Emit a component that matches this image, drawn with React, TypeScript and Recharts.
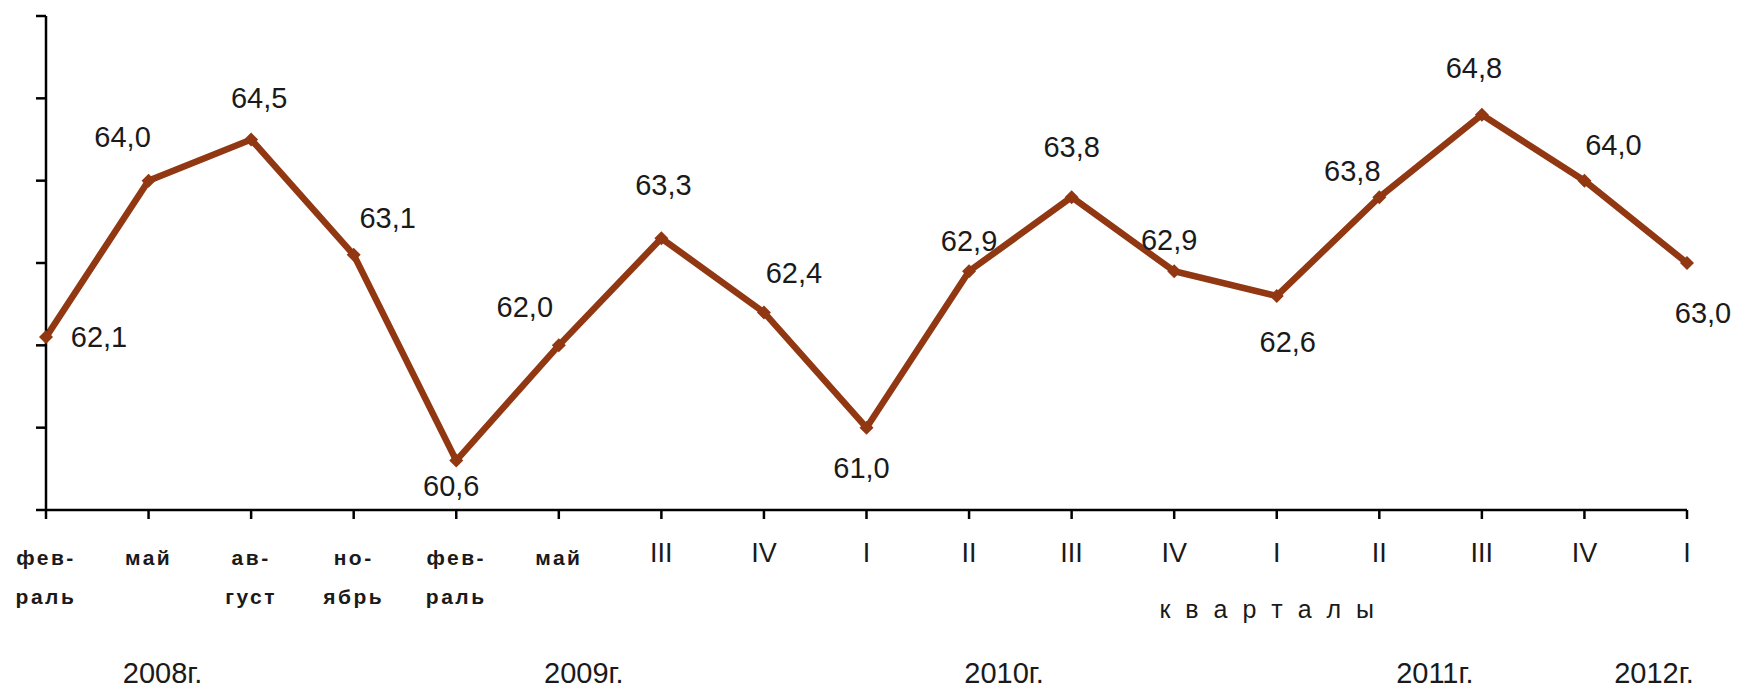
import React from 'react';
import { LineChart, Line, XAxis, YAxis, LabelList } from 'recharts';

// ---- data ----
const categories: string[][] = [
  ['фев-', 'раль'], ['май'], ['ав-', 'густ'], ['но-', 'ябрь'],
  ['фев-', 'раль'], ['май'], ['III'], ['IV'], ['I'], ['II'], ['III'], ['IV'],
  ['I'], ['II'], ['III'], ['IV'], ['I'],
];
const values: number[] = [62.1, 64.0, 64.5, 63.1, 60.6, 62.0, 63.3, 62.4, 61.0, 62.9, 63.8, 62.9, 62.6, 63.8, 64.8, 64.0, 63.0];
const yTicks: number[] = [60, 61, 62, 63, 64, 65, 66];
const years: string[] = ['2008г.', '2009г.', '2010г.', '2011г.', '2012г.'];
const yearAnchorIndex: number[] = [1, 5, 9, 14, 16];
const axisTitle = 'к в а р т а л ы';
const axisTitleAnchorIndex = 12;

// ---- styling (offsets in px) ----
const yearDx: number[] = [14, 25, 35, -47, -33];
const labelOffsets: [number, number][] = [
  [53, 0], [-26, -44], [8, -42], [34, -37], [-5, 25], [-34, -38], [2, -53], [30, -39],
  [-5, 40], [0, -30], [0, -50], [-5, -31], [11, 46], [-27, -26], [-8, -47], [29, -36], [16, 50],
];
const LINE_COLOR = '#913812';
const FONT = '"Liberation Sans", Arial, sans-serif';
const TEXT_COLOR = '#1a1a1a';

const data = values.map((v, i) => ({ idx: i, value: v }));
const xTicks = values.map((_, i) => i);

const XTick = (props: any) => {
  const { x, y, payload } = props;
  const i: number = payload.value;
  const lines = categories[i] || [];
  const roman = /^[IV]+$/.test(lines[0] || '');
  const yi = yearAnchorIndex.indexOf(i);
  return (
    <g>
      {roman ? (
        <text x={x} y={y + 34} textAnchor="middle" dominantBaseline="central" fontFamily={FONT} fontSize={27} fill={TEXT_COLOR}>
          {lines[0]}
        </text>
      ) : (
        lines.map((t, k) => (
          <text key={k} x={x} y={y + 38 + k * 39} textAnchor="middle" dominantBaseline="central" fontFamily={FONT} fontSize={21} fontWeight="bold" letterSpacing={2.5} fill={TEXT_COLOR}>
            {t}
          </text>
        ))
      )}
      {i === axisTitleAnchorIndex && (
        <text x={x - 8} y={y + 90} textAnchor="middle" dominantBaseline="central" fontFamily={FONT} fontSize={25} letterSpacing={4} fill={TEXT_COLOR}>
          {axisTitle}
        </text>
      )}
      {yi >= 0 && (
        <text x={x + yearDx[yi]} y={y + 154} textAnchor="middle" dominantBaseline="central" fontFamily={FONT} fontSize={29} fill={TEXT_COLOR}>
          {years[yi]}
        </text>
      )}
    </g>
  );
};

const DataLabel = (props: any) => {
  const { x, y, index, value } = props;
  const off = labelOffsets[index] || [0, -30];
  return (
    <text x={x + off[0]} y={y + off[1]} textAnchor="middle" dominantBaseline="central" fontFamily={FONT} fontSize={29} fill={TEXT_COLOR}>
      {Number(value).toFixed(1).replace('.', ',')}
    </text>
  );
};

const Diamond = (props: any) => {
  const { cx, cy } = props;
  if (cx == null || cy == null) return <g />;
  const r = 7;
  return <polygon points={`${cx},${cy - r} ${cx + r},${cy} ${cx},${cy + r} ${cx - r},${cy}`} fill={LINE_COLOR} />;
};

export default function App() {
  return (
    <div style={{ width: 1731, height: 680, background: '#fff' }}>
      <LineChart width={1731} height={680} data={data} margin={{ top: 8, right: 52, left: 0, bottom: 0 }}>
        <XAxis
          dataKey="idx"
          type="number"
          domain={[0, 16]}
          ticks={xTicks}
          interval={0}
          height={178}
          tickSize={9}
          tickMargin={0}
          axisLine={{ stroke: '#000', strokeWidth: 2.5 }}
          tickLine={{ stroke: '#000', strokeWidth: 2.5 }}
          tick={<XTick />}
        />
        <YAxis
          type="number"
          domain={[60, 66]}
          ticks={yTicks}
          width={38}
          tickSize={10}
          axisLine={{ stroke: '#000', strokeWidth: 2.5 }}
          tickLine={{ stroke: '#000', strokeWidth: 2.5 }}
          tick={() => <g />}
        />
        <Line
          type="linear"
          dataKey="value"
          stroke={LINE_COLOR}
          strokeWidth={6.5}
          strokeLinejoin="miter"
          dot={<Diamond />}
          activeDot={false}
          isAnimationActive={false}
        >
          <LabelList dataKey="value" content={<DataLabel />} />
        </Line>
      </LineChart>
    </div>
  );
}
